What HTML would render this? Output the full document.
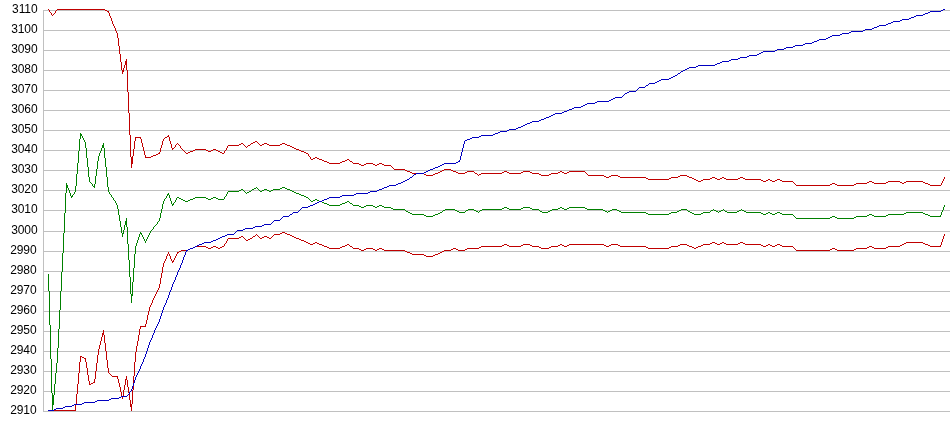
<!DOCTYPE html>
<html><head><meta charset="utf-8"><title>Chart</title>
<style>html,body{margin:0;padding:0;background:#fff;overflow:hidden}svg text{font-family:"Liberation Sans",Arial,sans-serif}</style></head>
<body>
<svg width="950" height="435" viewBox="0 0 950 435" style="display:block;will-change:transform">
<rect x="0" y="0" width="950" height="435" fill="#ffffff"/>
<rect x="43" y="10" width="1" height="402" fill="#c0c0c0"/>
<rect x="43" y="10" width="907" height="1" fill="#c0c0c0"/>
<rect x="43" y="30" width="907" height="1" fill="#c0c0c0"/>
<rect x="43" y="50" width="907" height="1" fill="#c0c0c0"/>
<rect x="43" y="70" width="907" height="1" fill="#c0c0c0"/>
<rect x="43" y="90" width="907" height="1" fill="#c0c0c0"/>
<rect x="43" y="110" width="907" height="1" fill="#c0c0c0"/>
<rect x="43" y="130" width="907" height="1" fill="#c0c0c0"/>
<rect x="43" y="150" width="907" height="1" fill="#c0c0c0"/>
<rect x="43" y="170" width="907" height="1" fill="#c0c0c0"/>
<rect x="43" y="190" width="907" height="1" fill="#c0c0c0"/>
<rect x="43" y="210" width="907" height="1" fill="#c0c0c0"/>
<rect x="43" y="231" width="907" height="1" fill="#c0c0c0"/>
<rect x="43" y="251" width="907" height="1" fill="#c0c0c0"/>
<rect x="43" y="271" width="907" height="1" fill="#c0c0c0"/>
<rect x="43" y="291" width="907" height="1" fill="#c0c0c0"/>
<rect x="43" y="311" width="907" height="1" fill="#c0c0c0"/>
<rect x="43" y="331" width="907" height="1" fill="#c0c0c0"/>
<rect x="43" y="351" width="907" height="1" fill="#c0c0c0"/>
<rect x="43" y="371" width="907" height="1" fill="#c0c0c0"/>
<rect x="43" y="391" width="907" height="1" fill="#c0c0c0"/>
<rect x="43" y="411" width="907" height="1" fill="#c0c0c0"/>
<g font-family="Liberation Sans, Arial, sans-serif" font-size="12px" letter-spacing="-0.1" fill="#000000"><text x="37.5" y="13" text-anchor="end">3110</text><text x="37.5" y="33" text-anchor="end">3100</text><text x="37.5" y="53" text-anchor="end">3090</text><text x="37.5" y="73" text-anchor="end">3080</text><text x="37.5" y="93" text-anchor="end">3070</text><text x="37.5" y="113" text-anchor="end">3060</text><text x="37.5" y="133" text-anchor="end">3050</text><text x="37.5" y="153" text-anchor="end">3040</text><text x="37.5" y="173" text-anchor="end">3030</text><text x="37.5" y="193" text-anchor="end">3020</text><text x="37.5" y="213" text-anchor="end">3010</text><text x="37.5" y="234" text-anchor="end">3000</text><text x="36.5" y="254" text-anchor="end">2990</text><text x="36.5" y="274" text-anchor="end">2980</text><text x="36.5" y="294" text-anchor="end">2970</text><text x="36.5" y="314" text-anchor="end">2960</text><text x="36.5" y="334" text-anchor="end">2950</text><text x="36.5" y="354" text-anchor="end">2940</text><text x="36.5" y="374" text-anchor="end">2930</text><text x="36.5" y="394" text-anchor="end">2920</text><text x="36.5" y="414" text-anchor="end">2910</text></g>
<path d="M48.5 274v17M49.5 291v34M50.5 325v34M51.5 359v34M52.5 393v18M53.5 395v10M54.5 384v11M55.5 373v11M56.5 363v10M57.5 348v15M58.5 329v19M59.5 310v19M60.5 291v19M61.5 272v19M62.5 253v19M63.5 233v20M64.5 213v20M65.5 193v20M66.5 183v10M67.5 185v3M68.5 188v2M69.5 190v3M70.5 193v3M71.5 196v2M72.5 195v2M74.5 192v2M75.5 186v6M76.5 174v12M77.5 163v11M78.5 151v12M79.5 139v12M80.5 133v6M81.5 134v2M82.5 136v2M83.5 138v2M84.5 140v2M85.5 142v6M86.5 148v10M87.5 158v9M88.5 167v10M89.5 177v5M92.5 184v2M94.5 184v4M95.5 176v8M96.5 169v7M97.5 161v8M98.5 156v5M99.5 153v3M100.5 151v2M101.5 148v3M102.5 145v3M103.5 143v5M104.5 148v10M105.5 158v9M106.5 167v10M107.5 177v10M108.5 187v5M109.5 192v2M111.5 195v2M113.5 198v2M115.5 201v2M116.5 203v2M117.5 205v4M118.5 209v6M119.5 215v6M120.5 221v6M121.5 227v6M122.5 233v4M123.5 230v4M124.5 225v5M125.5 221v4M126.5 218v9M127.5 227v17M128.5 244v16M129.5 260v17M130.5 277v17M131.5 294v9M132.5 282v14M133.5 268v14M134.5 254v14M135.5 246v8M136.5 243v3M137.5 240v3M138.5 237v3M139.5 234v3M140.5 232v2M141.5 233v2M142.5 235v2M143.5 237v2M144.5 239v2M145.5 241v2M146.5 239v2M147.5 237v2M148.5 235v2M149.5 233v2M150.5 231v2M153.5 227v2M157.5 222v2M159.5 218v3M160.5 213v5M161.5 209v4M162.5 204v5M163.5 201v3M164.5 199v2M166.5 196v2M167.5 194v2M168.5 193v2M169.5 195v3M170.5 198v3M171.5 201v3M172.5 204v2M173.5 203v2M175.5 200v2M176.5 198v2M224.5 197v2M226.5 194v2M227.5 192v2M940.5 215v2M941.5 212v3M942.5 210v2M943.5 207v3M944.5 205v2M90 182.5h1M91 183.5h1M93 186.5h1M256 187.5h1M282 187.5h3M254 188.5h2M257 188.5h1M280 188.5h2M285 188.5h2M241 189.5h2M252 189.5h2M258 189.5h1M264 189.5h3M273 189.5h7M287 189.5h3M239 190.5h2M243 190.5h1M251 190.5h1M259 190.5h1M262 190.5h2M267 190.5h2M271 190.5h2M290 190.5h2M228 191.5h11M244 191.5h1M249 191.5h2M260 191.5h2M269 191.5h2M292 191.5h2M245 192.5h1M247 192.5h2M294 192.5h2M246 193.5h1M296 193.5h3M73 194.5h1M110 194.5h1M299 194.5h2M301 195.5h3M225 196.5h1M304 196.5h2M112 197.5h1M177 197.5h2M195 197.5h11M213 197.5h3M306 197.5h2M165 198.5h1M179 198.5h2M193 198.5h2M206 198.5h2M211 198.5h2M216 198.5h2M308 198.5h1M181 199.5h2M190 199.5h3M208 199.5h3M218 199.5h6M309 199.5h1M315 199.5h2M114 200.5h1M183 200.5h2M188 200.5h2M310 200.5h1M313 200.5h2M317 200.5h2M185 201.5h3M311 201.5h2M319 201.5h3M347 201.5h2M174 202.5h1M322 202.5h2M345 202.5h2M349 202.5h1M324 203.5h3M342 203.5h3M350 203.5h2M327 204.5h2M340 204.5h2M352 204.5h1M329 205.5h11M353 205.5h6M366 205.5h7M379 205.5h3M359 206.5h2M364 206.5h2M373 206.5h2M377 206.5h2M382 206.5h2M361 207.5h3M375 207.5h2M384 207.5h7M504 207.5h3M523 207.5h7M560 207.5h2M569 207.5h16M391 208.5h2M502 208.5h2M507 208.5h2M521 208.5h2M530 208.5h2M558 208.5h2M562 208.5h2M567 208.5h2M585 208.5h2M393 209.5h12M445 209.5h10M468 209.5h6M482 209.5h20M509 209.5h12M532 209.5h7M552 209.5h6M564 209.5h3M587 209.5h16M612 209.5h5M681 209.5h6M713 209.5h1M723 209.5h1M741 209.5h1M405 210.5h1M443 210.5h2M455 210.5h2M466 210.5h2M474 210.5h2M480 210.5h2M539 210.5h1M550 210.5h2M603 210.5h2M610 210.5h2M617 210.5h2M679 210.5h2M687 210.5h1M711 210.5h2M714 210.5h2M721 210.5h2M724 210.5h1M739 210.5h2M742 210.5h2M406 211.5h2M442 211.5h1M457 211.5h2M465 211.5h1M476 211.5h2M479 211.5h1M540 211.5h2M548 211.5h2M605 211.5h2M608 211.5h2M619 211.5h2M677 211.5h2M688 211.5h2M710 211.5h1M716 211.5h2M719 211.5h2M725 211.5h2M737 211.5h2M744 211.5h2M408 212.5h2M440 212.5h2M459 212.5h6M478 212.5h1M542 212.5h6M607 212.5h1M621 212.5h25M671 212.5h6M690 212.5h2M703 212.5h7M718 212.5h1M727 212.5h10M746 212.5h15M768 212.5h2M777 212.5h3M906 212.5h17M410 213.5h2M438 213.5h2M646 213.5h2M669 213.5h2M692 213.5h2M701 213.5h2M761 213.5h2M766 213.5h2M770 213.5h2M775 213.5h2M780 213.5h2M904 213.5h2M923 213.5h2M412 214.5h12M435 214.5h3M648 214.5h21M694 214.5h7M763 214.5h3M772 214.5h3M782 214.5h11M869 214.5h3M888 214.5h16M925 214.5h3M424 215.5h2M433 215.5h2M793 215.5h1M867 215.5h2M872 215.5h2M886 215.5h2M928 215.5h2M426 216.5h7M794 216.5h1M832 216.5h3M856 216.5h11M874 216.5h12M930 216.5h10M795 217.5h1M830 217.5h2M835 217.5h2M854 217.5h2M796 218.5h34M837 218.5h17M158 221.5h1M156 224.5h1M155 225.5h1M154 226.5h1M152 229.5h1M151 230.5h1" fill="none" stroke="#008000" stroke-width="1" shape-rendering="crispEdges"/>
<path d="M49.5 10v2M51.5 13v2M55.5 11v2M108.5 11v2M109.5 13v3M110.5 16v2M111.5 18v3M112.5 21v3M113.5 24v2M114.5 26v2M115.5 28v3M116.5 31v2M117.5 33v5M118.5 38v8M119.5 46v8M120.5 54v8M121.5 62v8M122.5 70v4M123.5 68v4M124.5 65v3M125.5 61v4M126.5 59v11M127.5 70v22M128.5 92v21M129.5 113v22M130.5 135v22M131.5 157v11M132.5 156v8M133.5 149v7M134.5 141v8M135.5 137v4M140.5 137v2M141.5 139v4M142.5 143v4M143.5 147v4M144.5 151v4M145.5 155v3M159.5 152v2M160.5 148v4M161.5 145v3M162.5 141v4M163.5 139v2M168.5 135v2M169.5 137v4M170.5 141v3M171.5 144v4M172.5 148v2M175.5 145v2M180.5 146v2M224.5 151v2M226.5 148v2M227.5 146v2M308.5 154v2M310.5 157v2M941.5 183v2M942.5 181v2M943.5 179v2M944.5 177v2M48 9.5h1M57 9.5h48M56 10.5h1M105 10.5h2M107 11.5h1M50 12.5h1M54 13.5h1M53 14.5h1M52 15.5h1M167 136.5h1M136 137.5h4M165 137.5h2M164 138.5h1M255 141.5h2M253 142.5h2M257 142.5h1M177 143.5h1M241 143.5h2M251 143.5h2M258 143.5h1M264 143.5h3M282 143.5h3M176 144.5h1M178 144.5h1M239 144.5h2M243 144.5h1M250 144.5h1M259 144.5h1M262 144.5h2M267 144.5h2M280 144.5h2M285 144.5h2M179 145.5h1M228 145.5h11M244 145.5h1M248 145.5h2M260 145.5h2M269 145.5h11M287 145.5h3M245 146.5h1M247 146.5h1M290 146.5h2M174 147.5h1M246 147.5h1M292 147.5h2M173 148.5h1M181 148.5h1M294 148.5h2M182 149.5h1M195 149.5h11M213 149.5h3M296 149.5h3M183 150.5h1M193 150.5h2M206 150.5h2M211 150.5h2M216 150.5h2M225 150.5h1M299 150.5h2M184 151.5h1M190 151.5h3M208 151.5h3M218 151.5h2M301 151.5h3M185 152.5h1M188 152.5h2M220 152.5h2M304 152.5h2M158 153.5h1M186 153.5h2M222 153.5h2M306 153.5h2M156 154.5h2M153 155.5h3M151 156.5h2M309 156.5h1M146 157.5h5M315 157.5h2M313 158.5h2M317 158.5h2M311 159.5h2M319 159.5h3M347 159.5h2M322 160.5h2M345 160.5h2M349 160.5h1M324 161.5h3M342 161.5h3M350 161.5h2M327 162.5h2M340 162.5h2M352 162.5h1M329 163.5h11M353 163.5h6M366 163.5h7M379 163.5h3M359 164.5h2M364 164.5h2M373 164.5h2M377 164.5h2M382 164.5h2M361 165.5h3M375 165.5h2M384 165.5h7M391 166.5h1M392 167.5h1M393 168.5h1M394 169.5h11M444 169.5h7M405 170.5h2M442 170.5h2M451 170.5h2M407 171.5h3M440 171.5h2M453 171.5h3M467 171.5h7M504 171.5h3M523 171.5h7M560 171.5h2M569 171.5h16M410 172.5h2M438 172.5h2M456 172.5h2M465 172.5h2M474 172.5h1M502 172.5h2M507 172.5h2M521 172.5h2M530 172.5h2M558 172.5h2M562 172.5h2M567 172.5h2M585 172.5h1M412 173.5h12M435 173.5h3M458 173.5h7M475 173.5h2M481 173.5h21M509 173.5h12M532 173.5h7M551 173.5h7M564 173.5h3M586 173.5h1M424 174.5h2M433 174.5h2M477 174.5h1M479 174.5h2M539 174.5h2M549 174.5h2M587 174.5h1M426 175.5h7M478 175.5h1M541 175.5h8M588 175.5h16M611 175.5h7M680 175.5h7M604 176.5h2M609 176.5h2M618 176.5h2M678 176.5h2M687 176.5h2M606 177.5h3M620 177.5h26M671 177.5h7M689 177.5h3M712 177.5h3M722 177.5h2M740 177.5h3M646 178.5h2M669 178.5h2M692 178.5h2M710 178.5h2M715 178.5h2M720 178.5h2M724 178.5h2M738 178.5h2M743 178.5h2M648 179.5h21M694 179.5h2M703 179.5h7M717 179.5h3M726 179.5h12M745 179.5h16M768 179.5h2M777 179.5h3M696 180.5h2M701 180.5h2M761 180.5h2M766 180.5h2M770 180.5h2M775 180.5h2M780 180.5h2M698 181.5h3M763 181.5h3M772 181.5h3M782 181.5h11M869 181.5h3M888 181.5h12M906 181.5h17M793 182.5h1M867 182.5h2M872 182.5h2M886 182.5h2M900 182.5h2M904 182.5h2M923 182.5h2M794 183.5h1M832 183.5h3M856 183.5h11M874 183.5h12M902 183.5h2M925 183.5h3M795 184.5h1M830 184.5h2M835 184.5h2M854 184.5h2M928 184.5h2M796 185.5h34M837 185.5h17M930 185.5h11" fill="none" stroke="#c00000" stroke-width="1" shape-rendering="crispEdges"/>
<path d="M75.5 405v6M76.5 394v11M77.5 384v10M78.5 373v11M79.5 362v11M80.5 356v6M85.5 358v4M86.5 362v6M87.5 368v7M88.5 375v6M89.5 381v4M94.5 379v4M95.5 371v8M96.5 363v8M97.5 355v8M98.5 349v6M99.5 345v4M100.5 341v4M101.5 337v4M102.5 333v4M103.5 330v5M104.5 335v8M105.5 343v8M106.5 351v9M107.5 360v8M108.5 368v5M117.5 376v3M118.5 379v4M119.5 383v4M120.5 387v5M121.5 392v4M122.5 396v3M123.5 390v6M124.5 385v5M125.5 379v6M126.5 376v4M127.5 380v7M128.5 387v6M129.5 393v7M130.5 400v7M131.5 404v7M132.5 390v14M133.5 376v14M134.5 362v14M135.5 352v10M136.5 346v6M137.5 341v5M138.5 335v6M139.5 329v6M140.5 326v3M145.5 324v3M146.5 320v4M147.5 315v5M148.5 311v4M149.5 307v4M150.5 305v2M151.5 303v2M152.5 300v3M153.5 298v2M154.5 296v2M155.5 294v2M156.5 292v2M157.5 290v2M158.5 288v2M159.5 284v4M160.5 278v6M161.5 273v5M162.5 267v6M163.5 263v4M164.5 261v2M165.5 259v2M166.5 256v3M167.5 254v2M168.5 252v2M169.5 254v2M170.5 256v3M171.5 259v2M172.5 261v2M173.5 260v2M174.5 258v2M175.5 256v2M176.5 254v2M177.5 252v2M224.5 244v2M226.5 241v2M227.5 239v2M940.5 245v2M941.5 242v3M942.5 239v3M943.5 236v3M944.5 234v2M282 232.5h3M280 233.5h2M285 233.5h2M256 234.5h1M274 234.5h6M287 234.5h3M255 235.5h1M257 235.5h1M273 235.5h1M290 235.5h2M241 236.5h2M253 236.5h2M258 236.5h1M264 236.5h3M272 236.5h1M292 236.5h2M239 237.5h2M243 237.5h1M252 237.5h1M259 237.5h1M262 237.5h2M267 237.5h2M271 237.5h1M294 237.5h2M228 238.5h11M244 238.5h1M250 238.5h2M260 238.5h2M269 238.5h2M296 238.5h3M245 239.5h1M248 239.5h2M299 239.5h2M246 240.5h2M301 240.5h3M304 241.5h2M306 242.5h2M315 242.5h2M712 242.5h3M722 242.5h2M740 242.5h3M906 242.5h17M225 243.5h1M308 243.5h2M313 243.5h2M317 243.5h2M710 243.5h2M715 243.5h2M720 243.5h2M724 243.5h2M738 243.5h2M743 243.5h2M904 243.5h2M923 243.5h2M310 244.5h3M319 244.5h3M347 244.5h2M504 244.5h3M523 244.5h7M560 244.5h2M569 244.5h35M611 244.5h7M680 244.5h7M703 244.5h7M717 244.5h3M726 244.5h12M745 244.5h16M768 244.5h2M777 244.5h3M902 244.5h2M925 244.5h3M322 245.5h2M345 245.5h2M349 245.5h1M502 245.5h2M507 245.5h2M521 245.5h2M530 245.5h2M558 245.5h2M562 245.5h2M567 245.5h2M604 245.5h2M609 245.5h2M618 245.5h2M678 245.5h2M687 245.5h2M701 245.5h2M761 245.5h2M766 245.5h2M770 245.5h2M775 245.5h2M780 245.5h2M900 245.5h2M928 245.5h2M195 246.5h11M213 246.5h3M222 246.5h2M324 246.5h3M342 246.5h3M350 246.5h2M481 246.5h21M509 246.5h12M532 246.5h7M551 246.5h7M564 246.5h3M606 246.5h3M620 246.5h26M671 246.5h7M689 246.5h3M698 246.5h3M763 246.5h3M772 246.5h3M782 246.5h11M869 246.5h3M888 246.5h12M930 246.5h10M193 247.5h2M206 247.5h2M211 247.5h2M216 247.5h2M220 247.5h2M327 247.5h2M340 247.5h2M352 247.5h1M479 247.5h2M539 247.5h2M549 247.5h2M646 247.5h2M669 247.5h2M692 247.5h2M696 247.5h2M793 247.5h1M867 247.5h2M872 247.5h2M886 247.5h2M190 248.5h3M208 248.5h3M218 248.5h2M329 248.5h11M353 248.5h6M366 248.5h7M379 248.5h3M453 248.5h3M467 248.5h12M541 248.5h8M648 248.5h21M694 248.5h2M794 248.5h1M832 248.5h3M856 248.5h11M874 248.5h12M188 249.5h2M359 249.5h2M364 249.5h2M373 249.5h2M377 249.5h2M382 249.5h2M451 249.5h2M456 249.5h2M465 249.5h2M795 249.5h1M830 249.5h2M835 249.5h2M854 249.5h2M181 250.5h7M361 250.5h3M375 250.5h2M384 250.5h21M444 250.5h7M458 250.5h7M796 250.5h34M837 250.5h17M179 251.5h2M405 251.5h2M442 251.5h2M178 252.5h1M407 252.5h3M440 252.5h2M410 253.5h2M438 253.5h2M412 254.5h12M435 254.5h3M424 255.5h2M433 255.5h2M426 256.5h7M141 326.5h4M81 356.5h1M82 357.5h2M84 358.5h1M109 373.5h1M110 374.5h1M111 375.5h1M112 376.5h5M93 382.5h1M91 383.5h2M90 384.5h1M48 410.5h27" fill="none" stroke="#c00000" stroke-width="1" shape-rendering="crispEdges"/>
<path d="M129.5 392v2M131.5 389v2M132.5 386v3M133.5 383v3M134.5 380v3M135.5 377v3M136.5 375v2M137.5 373v2M138.5 371v2M139.5 369v2M140.5 366v3M141.5 364v2M142.5 362v2M143.5 359v3M144.5 357v2M145.5 354v3M146.5 351v3M147.5 348v3M148.5 345v3M149.5 342v3M150.5 340v2M151.5 338v2M152.5 335v3M153.5 333v2M154.5 330v3M155.5 328v2M156.5 326v2M157.5 324v2M158.5 322v2M159.5 319v3M160.5 316v3M161.5 313v3M162.5 310v3M163.5 307v3M164.5 305v2M165.5 303v2M166.5 300v3M167.5 298v2M168.5 295v3M169.5 292v3M170.5 290v2M171.5 287v3M172.5 284v3M173.5 282v2M174.5 280v2M175.5 277v3M176.5 275v2M177.5 272v3M178.5 270v2M179.5 268v2M180.5 265v3M181.5 263v2M182.5 260v3M183.5 257v3M184.5 255v2M185.5 252v3M186.5 250v2M459.5 160v2M460.5 156v4M461.5 152v4M462.5 148v4M463.5 144v4M464.5 141v3M943 9.5h2M941 10.5h2M930 11.5h11M928 12.5h2M925 13.5h3M923 14.5h2M916 15.5h7M914 16.5h2M911 17.5h3M909 18.5h2M902 19.5h7M900 20.5h2M893 21.5h7M891 22.5h2M888 23.5h3M886 24.5h2M879 25.5h7M877 26.5h2M874 27.5h3M872 28.5h2M865 29.5h7M863 30.5h2M851 31.5h12M849 32.5h2M842 33.5h7M840 34.5h2M832 35.5h8M830 36.5h2M828 37.5h2M826 38.5h2M819 39.5h7M817 40.5h2M814 41.5h3M812 42.5h2M805 43.5h7M803 44.5h2M795 45.5h8M793 46.5h2M786 47.5h7M784 48.5h2M777 49.5h7M775 50.5h2M763 51.5h12M761 52.5h2M759 53.5h2M757 54.5h2M749 55.5h8M747 56.5h2M740 57.5h7M738 58.5h2M731 59.5h7M729 60.5h2M722 61.5h7M720 62.5h2M717 63.5h3M715 64.5h2M698 65.5h17M696 66.5h2M689 67.5h7M687 68.5h2M685 69.5h2M683 70.5h2M681 71.5h2M680 72.5h1M678 73.5h2M677 74.5h1M675 75.5h2M673 76.5h2M671 77.5h2M669 78.5h2M661 79.5h8M659 80.5h2M657 81.5h2M655 82.5h2M649 83.5h6M648 84.5h1M646 85.5h2M645 86.5h1M639 87.5h6M638 88.5h1M637 89.5h1M636 90.5h1M629 91.5h7M627 92.5h2M625 93.5h2M624 94.5h1M623 95.5h1M622 96.5h1M615 97.5h7M613 98.5h2M611 99.5h2M609 100.5h2M597 101.5h12M595 102.5h2M587 103.5h8M585 104.5h2M583 105.5h2M581 106.5h2M574 107.5h7M572 108.5h2M569 109.5h3M567 110.5h2M564 111.5h3M562 112.5h2M555 113.5h7M553 114.5h2M551 115.5h2M549 116.5h2M546 117.5h3M544 118.5h2M541 119.5h3M539 120.5h2M532 121.5h7M530 122.5h2M527 123.5h3M525 124.5h2M523 125.5h2M521 126.5h2M518 127.5h3M516 128.5h2M509 129.5h7M507 130.5h2M500 131.5h7M498 132.5h2M495 133.5h3M493 134.5h2M481 135.5h12M479 136.5h2M472 137.5h7M470 138.5h2M467 139.5h3M465 140.5h2M458 161.5h1M456 162.5h2M444 163.5h12M442 164.5h2M440 165.5h2M438 166.5h2M435 167.5h3M433 168.5h2M430 169.5h3M428 170.5h2M426 171.5h2M424 172.5h2M416 173.5h8M414 174.5h2M413 175.5h1M412 176.5h1M410 177.5h2M409 178.5h1M407 179.5h2M405 180.5h2M403 181.5h2M401 182.5h2M398 183.5h3M396 184.5h2M389 185.5h7M387 186.5h2M384 187.5h3M382 188.5h2M379 189.5h3M377 190.5h2M370 191.5h7M368 192.5h2M356 193.5h12M354 194.5h2M342 195.5h12M340 196.5h2M329 197.5h11M327 198.5h2M324 199.5h3M322 200.5h2M319 201.5h3M317 202.5h2M315 203.5h2M313 204.5h2M310 205.5h3M308 206.5h2M302 207.5h6M301 208.5h1M300 209.5h1M299 210.5h1M298 211.5h1M293 212.5h5M292 213.5h1M290 214.5h2M289 215.5h1M283 216.5h6M282 217.5h1M281 218.5h1M280 219.5h1M274 220.5h6M273 221.5h1M272 222.5h1M271 223.5h1M264 224.5h7M262 225.5h2M255 226.5h7M253 227.5h2M245 228.5h8M243 229.5h2M237 230.5h6M236 231.5h1M235 232.5h1M234 233.5h1M227 234.5h7M225 235.5h2M222 236.5h3M220 237.5h2M218 238.5h2M216 239.5h2M213 240.5h3M211 241.5h2M204 242.5h7M202 243.5h2M199 244.5h3M197 245.5h2M195 246.5h2M193 247.5h2M190 248.5h3M188 249.5h2M187 250.5h1M130 391.5h1M128 394.5h1M127 395.5h1M121 396.5h6M119 397.5h2M111 398.5h8M109 399.5h2M97 400.5h12M95 401.5h2M84 402.5h11M82 403.5h2M74 404.5h8M72 405.5h2M65 406.5h7M63 407.5h2M56 408.5h7M54 409.5h2M48 410.5h6" fill="none" stroke="#0000c0" stroke-width="1" shape-rendering="crispEdges"/>
</svg>
</body></html>
